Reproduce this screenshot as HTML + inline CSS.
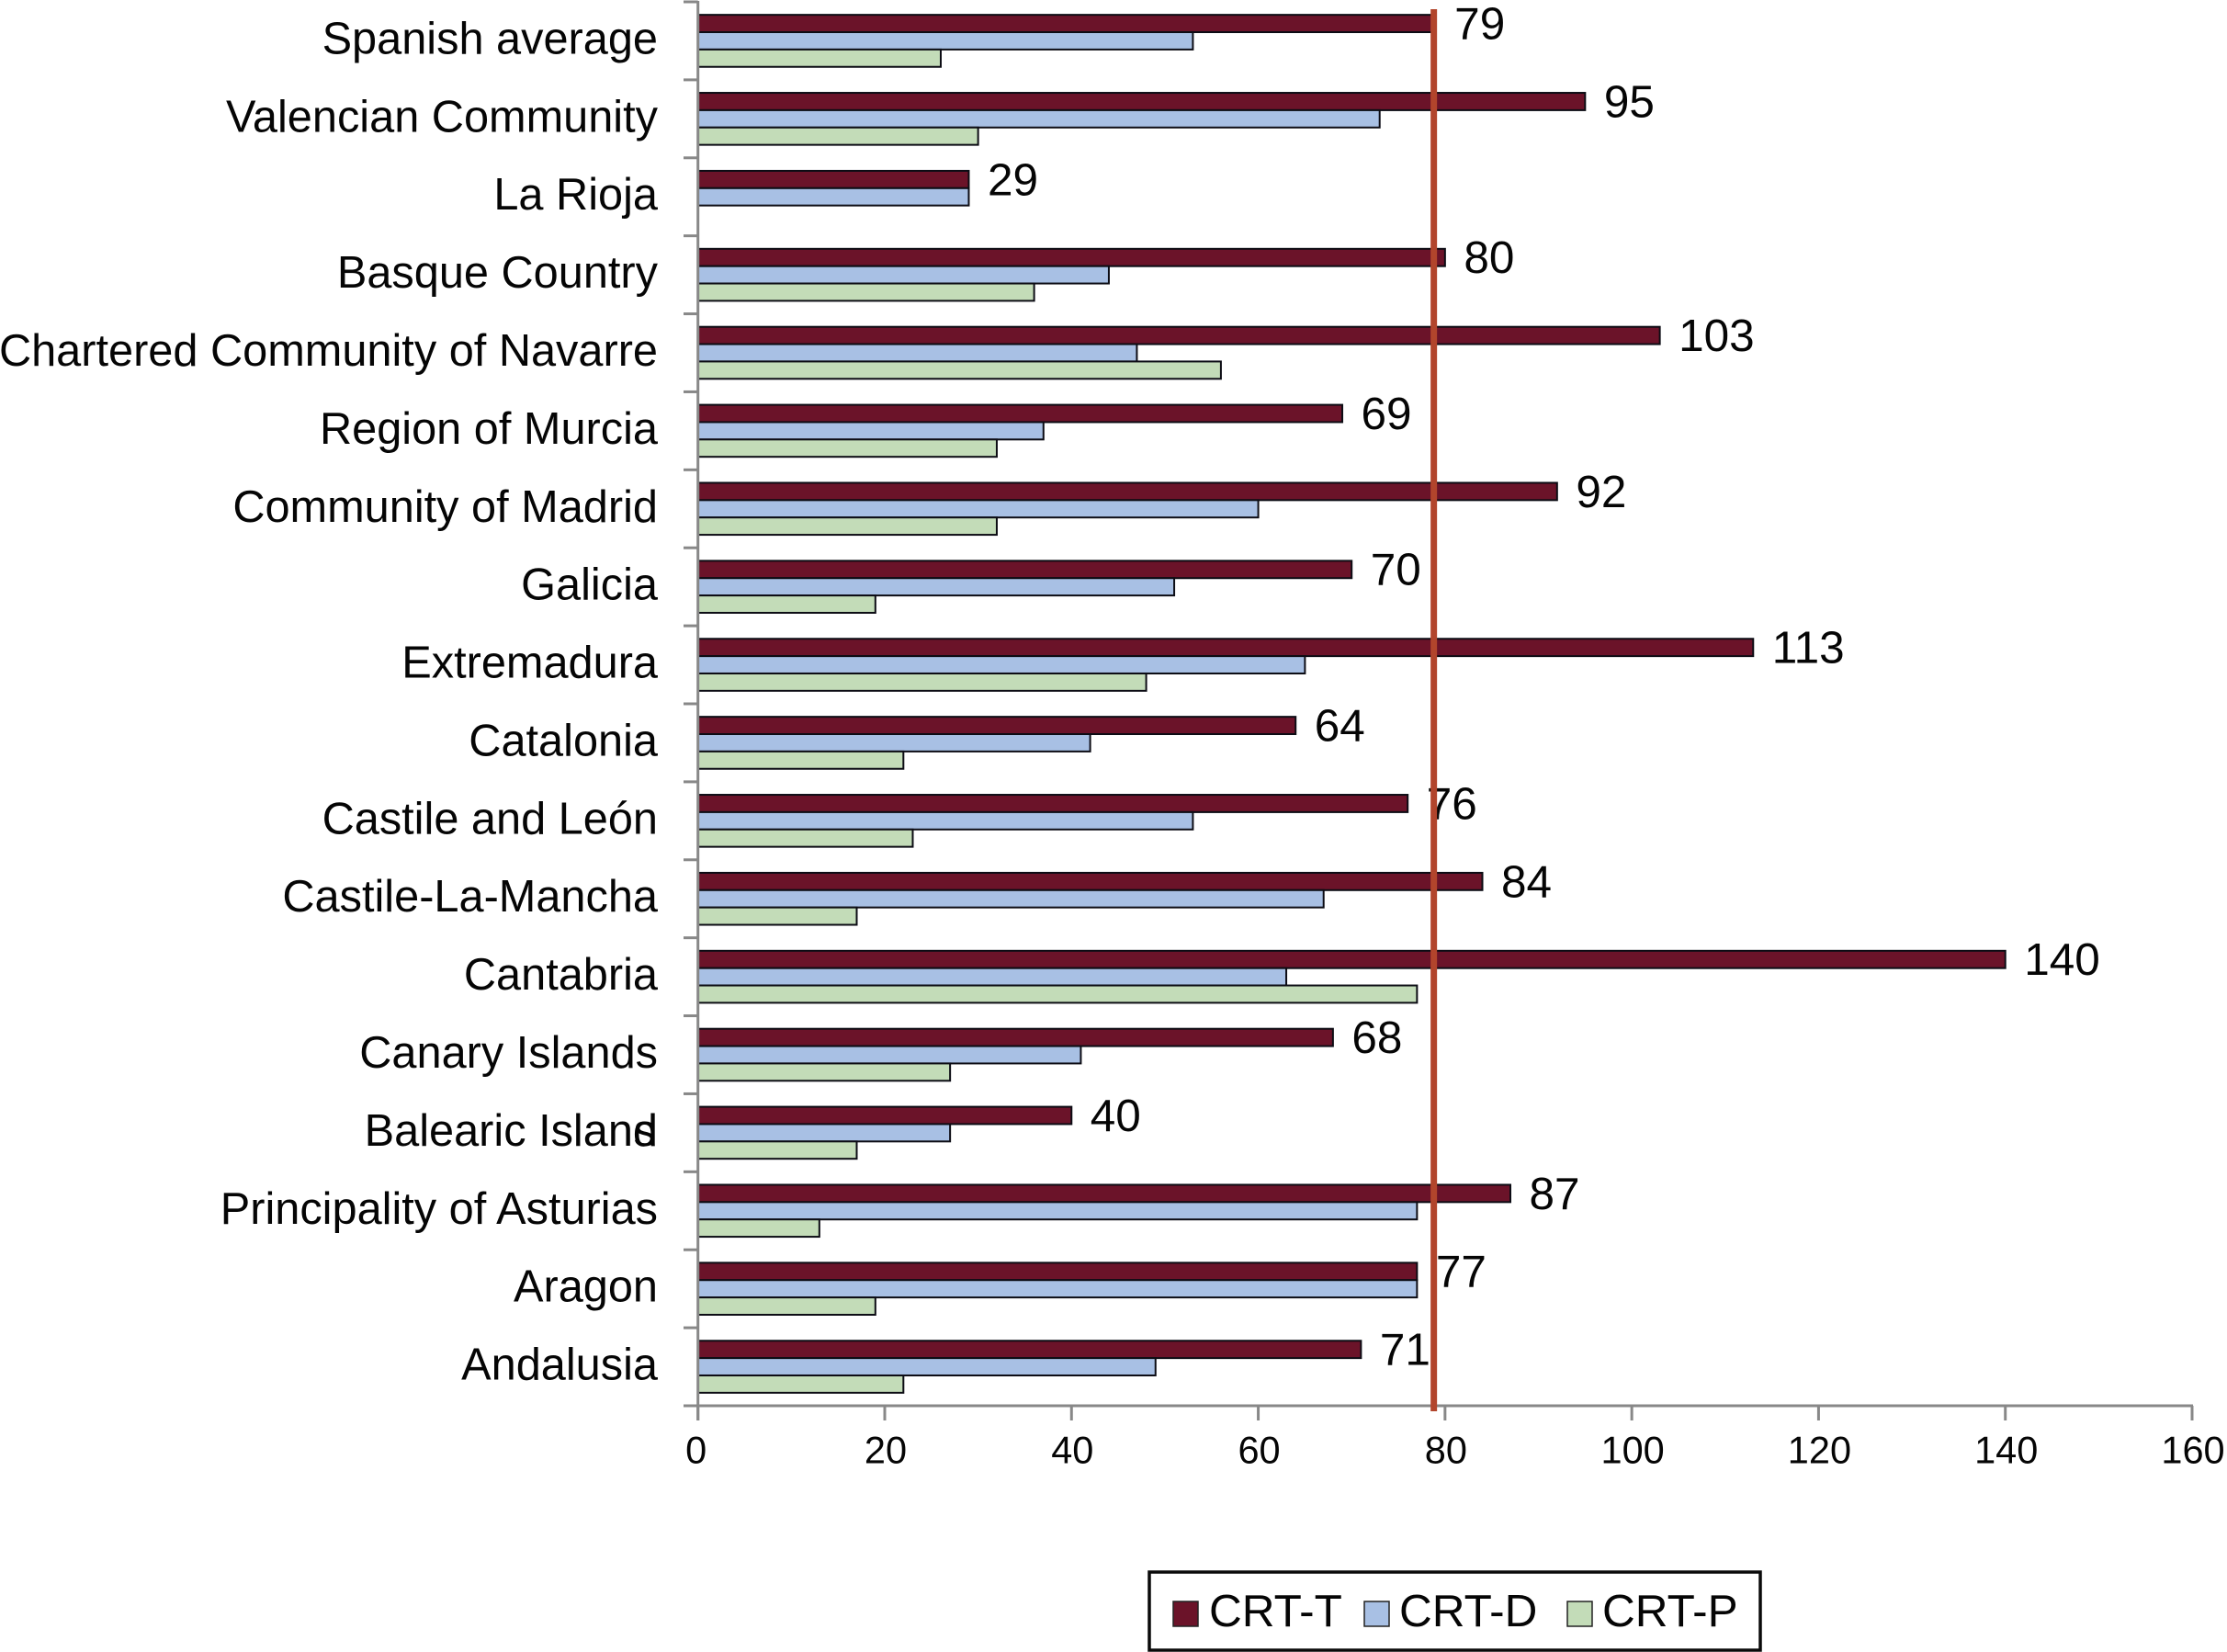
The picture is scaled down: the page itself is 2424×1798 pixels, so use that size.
<!DOCTYPE html>
<html lang="en">
<head>
<meta charset="utf-8">
<title>CRT rates by Spanish region</title>
<style>
  html, body { margin: 0; padding: 0; background: #fff; }
  svg { display: block; }
  text { font-family: "Liberation Sans", Arial, sans-serif; fill: #050505; }
</style>
</head>
<body>
<svg id="chart" xmlns="http://www.w3.org/2000/svg" width="2424" height="1798" viewBox="0 0 2424 1798">
  <rect x="0" y="0" width="2424" height="1798" fill="#ffffff"/>
  <g id="bars"></g>
  <g id="axes"></g>
  <g id="labels"></g>
  <g id="reference"></g>
  <g>
    <rect x="1251" y="1711" width="665" height="85" fill="#ffffff" stroke="#0a0a0a" stroke-width="3.5"/>
    <rect x="1277" y="1743" width="27" height="27" fill="#6b1329" stroke="#222" stroke-width="1.5"/>
    <text x="1316" y="1770" font-size="49.5">CRT-T</text>
    <rect x="1485" y="1743" width="27" height="27" fill="#a8c0e4" stroke="#222" stroke-width="1.5"/>
    <text x="1523" y="1770" font-size="49.5">CRT-D</text>
    <rect x="1706" y="1743" width="27" height="27" fill="#c3dcb8" stroke="#222" stroke-width="1.5"/>
    <text x="1744" y="1770" font-size="49.5">CRT-P</text>
  </g>
</svg>
<script>
var categories = ["Spanish average","Valencian Community","La Rioja","Basque Country","Chartered Community of Navarre","Region of Murcia","Community of Madrid","Galicia","Extremadura","Catalonia","Castile and León","Castile-La-Mancha","Cantabria","Canary Islands","Balearic Island","Principality of Asturias","Aragon","Andalusia"];
var crtT = [79,95,29,80,103,69,92,70,113,64,76,84,140,68,40,87,77,71];
var crtD = [53,73,29,44,47,37,60,51,65,42,53,67,63,41,27,77,77,49];
var crtP = [26,30,0,36,56,32,32,19,48,22,23,17,77,27,17,13,19,22];
var xTickLabels = [0,20,40,60,80,100,120,140,160];
var referenceValue = 78.8;

var NS = "http://www.w3.org/2000/svg";
var plotLeft = 759.7, plotRight = 2386, plotTop = 2, plotBottom = 1530;
var xMax = xTickLabels[xTickLabels.length - 1];

function xScale(v) { return plotLeft + (v / xMax) * (plotRight - plotLeft); }
function bandHeight() { return (plotBottom - plotTop) / categories.length; }
function bandTop(i) { return plotTop + i * bandHeight(); }
function barTop(i, s) { return bandTop(i) + bandHeight() * (0.75 + s) / 4.5; }
function barHeight() { return bandHeight() / 4.5; }
function make(tag, parent) {
  var el = document.createElementNS(NS, tag);
  parent.appendChild(el);
  return el;
}
function setAll(el, attrs) {
  for (var k in attrs) el.setAttribute(k, attrs[k]);
}

var barsG = document.getElementById("bars");
var axesG = document.getElementById("axes");
var labelsG = document.getElementById("labels");
var refG = document.getElementById("reference");

var seriesValues = [crtT, crtD, crtP];
var seriesFill = ["#6b1329", "#a8c0e4", "#c3dcb8"];
var seriesKey = ["crt-t", "crt-d", "crt-p"];

categories.forEach(function (cat, i) {
  seriesValues.forEach(function (vals, s) {
    if (!vals[i]) return;
    var r = make("rect", barsG);
    
    
    setAll(r, {
      x: xScale(0),
      y: barTop(i, s),
      width: xScale(vals[i]) - xScale(0),
      height: barHeight(),
      fill: seriesFill[s],
      stroke: "#0c0c14",
      "stroke-width": 2
    });
  });

  var t = make("text", labelsG);
  
  
  setAll(t, { x: 716, y: bandTop(i) + bandHeight() / 2 + 14, "font-size": 48.7, "text-anchor": "end" });
  t.textContent = cat;

  var d = make("text", labelsG);
  
  
  setAll(d, { x: xScale(crtT[i]) + 20.5, y: bandTop(i) + 40.5, "font-size": 49.5 });
  d.textContent = crtT[i];

  var tk = make("line", axesG);
  
  
  setAll(tk, { x1: 744, x2: plotLeft, y1: bandTop(i), y2: bandTop(i), stroke: "#888888", "stroke-width": 3 });
});

/* the stray overlapping final letter printed over "Balearic Island" */
var extra = make("text", labelsG);


setAll(extra, { x: 714, y: bandTop(14) + bandHeight() / 2 + 14, "font-size": 48.7, "text-anchor": "end" });
extra.textContent = "s";

var yAxis = make("line", axesG);


setAll(yAxis, { x1: plotLeft, x2: plotLeft, y1: plotTop - 1, y2: plotBottom + 16, stroke: "#888888", "stroke-width": 3 });

var yEnd = make("line", axesG);


setAll(yEnd, { x1: 744, x2: plotLeft, y1: plotBottom, y2: plotBottom, stroke: "#888888", "stroke-width": 3 });

var xAxis = make("line", axesG);


setAll(xAxis, { x1: plotLeft, x2: plotRight + 1, y1: plotBottom, y2: plotBottom, stroke: "#888888", "stroke-width": 3 });

xTickLabels.forEach(function (v) {
  var m = make("line", axesG);
  
  
  setAll(m, { x1: xScale(v), x2: xScale(v), y1: plotBottom, y2: plotBottom + 16, stroke: "#888888", "stroke-width": 3 });

  var l = make("text", labelsG);
  
  
  setAll(l, { x: xScale(v) + (v === 0 ? -2 : 1), y: 1592.5, "font-size": 41.5, "text-anchor": "middle" });
  l.textContent = v;
});

var ref = make("line", refG);


setAll(ref, { x1: xScale(referenceValue), x2: xScale(referenceValue), y1: 10, y2: 1536, stroke: "#b2452c", "stroke-width": 7 });
</script>
</body>
</html>
